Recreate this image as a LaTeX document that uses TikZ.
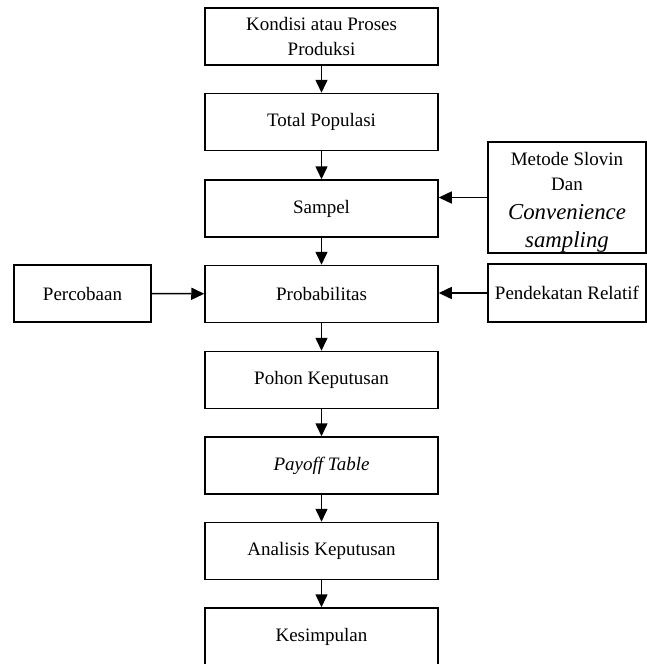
\documentclass[tikz,border=0pt]{standalone}
\usepackage{fontspec}
\setmainfont{Liberation Serif}
\usetikzlibrary{arrows.meta}
\begin{document}
\begin{tikzpicture}[x=1pt,y=-1pt,
  box/.style={draw=black,line width=1.5pt,fill=white,inner sep=0pt,align=center,
    font=\fontsize{19}{24}\selectfont},
  mainbox/.style={box,minimum width=233pt,minimum height=57pt},
  arr/.style={line width=1.5pt,-{Triangle[length=13pt,width=12pt]}}]
\useasboundingbox (0,0) rectangle (647,664);
\node[mainbox] (k) at (321.5,36.5) {Kondisi atau Proses\\[1pt]Produksi};
\node[mainbox] (t) at (321.5,122) {Total Populasi};
\node[mainbox] (s) at (321.5,208.5) {Sampel};
\node[mainbox] (p) at (321.5,294) {Probabilitas};
\node[mainbox] (h) at (321.5,380) {Pohon Keputusan};
\node[mainbox] (y) at (321.5,465.5) {\itshape Payoff Table};
\node[mainbox] (a) at (321.5,551) {Analisis Keputusan};
\node[mainbox] (z) at (321.5,636.5) {Kesimpulan};
\node[box,minimum width=137pt,minimum height=57pt] (c) at (82.5,293.5) {Percobaan};
\node[box,minimum width=158pt,minimum height=58pt] (r) at (567,293) {Pendekatan Relatif};
\node[box,minimum width=158pt,minimum height=111pt] (m) at (567,197.5)
  {\rule{0pt}{23pt}Metode Slovin\\[1pt]Dan\\[5pt]{\fontsize{22.8}{27}\selectfont\itshape Convenience}\\[4pt]{\fontsize{22.8}{27}\selectfont\itshape sampling}};
\draw[arr] (k) -- (t);
\draw[arr] (t) -- (s);
\draw[arr] (s) -- (p);
\draw[arr] (p) -- (h);
\draw[arr] (h) -- (y);
\draw[arr] (y) -- (a);
\draw[arr] (a) -- (z);
\draw[arr] (c) -- (p);
\draw[arr] (r.west) -- (r.west -| p.east);
\draw[arr] (m.west) -- (m.west -| s.east);
\end{tikzpicture}
\end{document}
